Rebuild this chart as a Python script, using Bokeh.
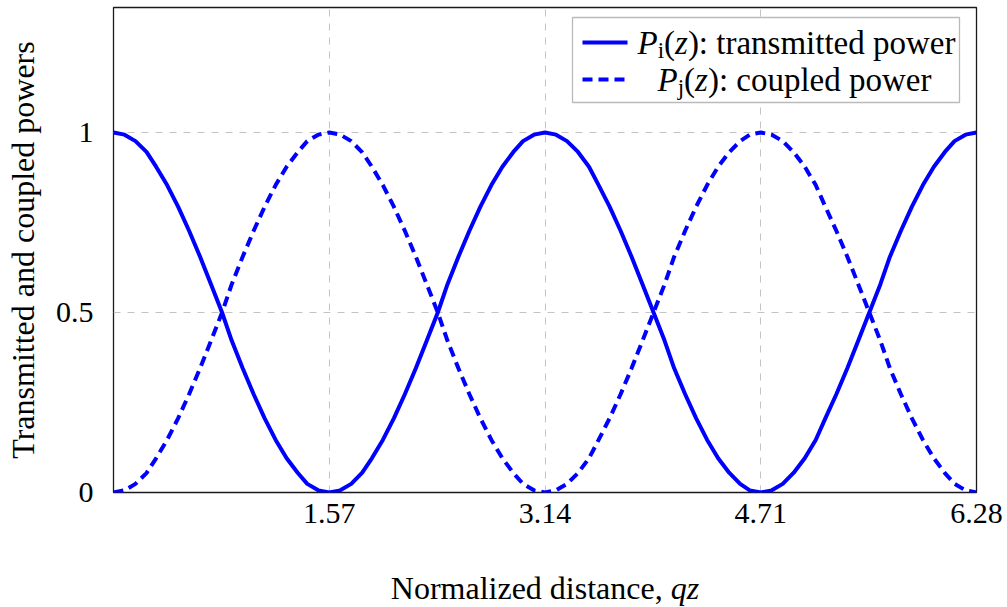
from bokeh.plotting import figure
from bokeh.models import Range1d, FixedTicker, Label, BoxAnnotation
from bokeh.layouts import column
from bokeh.core.properties import value
from bokeh.embed import file_html
from bokeh.resources import INLINE

# ---------------- data ----------------
qz = [0.00, 0.08, 0.16, 0.24, 0.31, 0.39, 0.47, 0.55, 0.63, 0.71,
      0.79, 0.86, 0.94, 1.02, 1.10, 1.18, 1.26, 1.34, 1.41, 1.49,
      1.57, 1.65, 1.73, 1.81, 1.88, 1.96, 2.04, 2.12, 2.20, 2.28,
      2.36, 2.43, 2.51, 2.59, 2.67, 2.75, 2.83, 2.91, 2.98, 3.06,
      3.14, 3.22, 3.30, 3.38, 3.46, 3.53, 3.61, 3.69, 3.77, 3.85,
      3.93, 4.01, 4.08, 4.16, 4.24, 4.32, 4.40, 4.48, 4.56, 4.63,
      4.71, 4.79, 4.87, 4.95, 5.03, 5.11, 5.18, 5.26, 5.34, 5.42,
      5.50, 5.58, 5.65, 5.73, 5.81, 5.89, 5.97, 6.05, 6.12, 6.20, 6.28]
transmitted = [1.000, 0.994, 0.976, 0.946, 0.905, 0.854, 0.794, 0.727, 0.655, 0.578,
               0.500, 0.422, 0.345, 0.273, 0.206, 0.146, 0.095, 0.055, 0.024, 0.006,
               0.000, 0.006, 0.024, 0.055, 0.095, 0.146, 0.206, 0.273, 0.345, 0.422,
               0.500, 0.578, 0.655, 0.727, 0.794, 0.854, 0.905, 0.946, 0.976, 0.994,
               1.000, 0.994, 0.976, 0.946, 0.905, 0.854, 0.794, 0.727, 0.655, 0.578,
               0.500, 0.422, 0.345, 0.273, 0.206, 0.146, 0.095, 0.055, 0.024, 0.006,
               0.000, 0.006, 0.024, 0.055, 0.095, 0.146, 0.206, 0.273, 0.345, 0.422,
               0.500, 0.578, 0.655, 0.727, 0.794, 0.854, 0.905, 0.946, 0.976, 0.994, 1.000]
coupled = [0.000, 0.006, 0.024, 0.054, 0.095, 0.146, 0.206, 0.273, 0.345, 0.422,
           0.500, 0.578, 0.655, 0.727, 0.794, 0.854, 0.905, 0.945, 0.976, 0.994,
           1.000, 0.994, 0.976, 0.945, 0.905, 0.854, 0.794, 0.727, 0.655, 0.578,
           0.500, 0.422, 0.345, 0.273, 0.206, 0.146, 0.095, 0.054, 0.024, 0.006,
           0.000, 0.006, 0.024, 0.054, 0.095, 0.146, 0.206, 0.273, 0.345, 0.422,
           0.500, 0.578, 0.655, 0.727, 0.794, 0.854, 0.905, 0.945, 0.976, 0.994,
           1.000, 0.994, 0.976, 0.945, 0.905, 0.854, 0.794, 0.727, 0.655, 0.578,
           0.500, 0.422, 0.345, 0.273, 0.206, 0.146, 0.095, 0.054, 0.024, 0.006, 0.000]
x_ticks = [1.57, 3.14, 4.71, 6.28]
x_tick_labels = ["1.57", "3.14", "4.71", "6.28"]
y_ticks = [0, 0.5, 1]
y_tick_labels = ["0", "0.5", "1"]
y_label = "Transmitted and coupled powers"
x_label_main = "Normalized distance, "
x_label_var = "qz"

# ---------------- layout ----------------
W, H = 1007, 607
H2 = 47                                     # strip below holding the x label
H1 = H - H2
FL, FR, FT, FB = 113, 976, 7, 492          # frame edges in px
X0, X1 = 0.0, 6.28
Y0 = 0.0
Y1 = Y0 + (FB - FT) / 360.0                 # 360 px per unit

def dx(px):
    return X0 + (px - FL) / (FR - FL) * (X1 - X0)

def dy(py):
    return Y0 + (FB - py) / (FB - FT) * (Y1 - Y0)

FONT = "Liberation Serif"
BLUE = "#0000ff"

p = figure(width=W, height=H1, output_backend="svg", toolbar_location=None,
           x_range=Range1d(X0, X1), y_range=Range1d(Y0, Y1),
           min_border_left=FL, min_border_right=W - FR,
           min_border_top=FT, min_border_bottom=H1 - FB)
p.background_fill_color = "white"
p.border_fill_color = "white"
p.outline_line_color = "#1a1a1a"
p.outline_line_width = 1.3

# axes
p.xaxis.ticker = FixedTicker(ticks=x_ticks)
p.yaxis.ticker = FixedTicker(ticks=y_ticks)
p.xaxis.major_label_overrides = {t: l for t, l in zip(x_ticks, x_tick_labels)}
p.yaxis.major_label_overrides = {t: l for t, l in zip(y_ticks, y_tick_labels)}
for ax in (p.xaxis[0], p.yaxis[0]):
    ax.axis_line_color = None
    ax.major_tick_line_color = None
    ax.minor_tick_line_color = None
    ax.major_label_text_font = FONT
    ax.major_label_text_font_size = "30px"
    ax.major_label_text_color = "black"
    ax.axis_label_text_font = FONT
    ax.axis_label_text_font_size = "32px"
    ax.axis_label_text_font_style = "normal"
    ax.axis_label_text_color = "black"
p.xaxis.major_label_standoff = 5
p.yaxis.major_label_standoff = 14
p.yaxis.axis_label = y_label
p.yaxis.axis_label_standoff = 12

# grid
for g in (p.xgrid[0], p.ygrid[0]):
    g.grid_line_color = "#c4c4c4"
    g.grid_line_width = 1
    g.grid_line_dash = "7 7"

# curves
p.line(qz, transmitted, line_color=BLUE, line_width=4, line_join="round")
p.line(qz, coupled, line_color=BLUE, line_width=4, line_dash="10 6")

# text metrics (Times) for placing mixed upright / italic pieces
TW = {"N": 722, "o": 500, "r": 333, "m": 778, "a": 444, "l": 278, "i": 278, "z": 444,
      "e": 444, "d": 500, " ": 250, "s": 389, "t": 278, "n": 500, "c": 444, ",": 250,
      "u": 500, "p": 500, "w": 722, ":": 278, "(": 333, ")": 333, "j": 278}
IW = {"P": 611, "z": 389, "q": 500}

def width(txt, size, italic=False):
    tbl = IW if italic else TW
    return sum(tbl.get(c, 500) for c in txt) / 1000.0 * size

def mixed_labels(segments, cx_px, mid_py):
    total = sum(width(t, s, it) for t, s, it, _ in segments)
    x = cx_px - total / 2.0
    for t, s, it, off in segments:
        p.add_layout(Label(x=dx(FL), y=dy(mid_py), x_offset=x - FL, y_offset=-off,
                           text=t, text_font=FONT, text_font_size=f"{s}px",
                           text_font_style="italic" if it else "normal",
                           text_color="black", text_baseline="middle",
                           text_align="left", level="overlay"))
        x += width(t, s, it)

# legend (drawn by hand for mixed italic / subscript text)
p.add_layout(BoxAnnotation(left=dx(572), right=dx(959), top=dy(17), bottom=dy(102),
                           fill_color="white", fill_alpha=1.0,
                           line_color="#1a1a1a", line_width=1.3, level="annotation"))
p.line([dx(582), dx(627)], [dy(42), dy(42)], line_color=BLUE, line_width=4, level="overlay")
p.line([dx(582), dx(627)], [dy(79), dy(79)], line_color=BLUE, line_width=4,
       line_dash="10 6", level="overlay")

row1 = [("P", 33, True, 0), ("i", 23, False, 8), ("(", 33, False, 0), ("z", 33, True, 0),
        ("): transmitted power", 33, False, 0)]
row2 = [("P", 33, True, 0), ("j", 23, False, 8), ("(", 33, False, 0), ("z", 33, True, 0),
        ("): coupled power", 33, False, 0)]
mixed_labels(row1, 796, 42)
mixed_labels(row2, 794, 79)

# strip below with the x-axis label (upright text + italic variable);
# the column aligns this strip's frame with the main frame, so its x range
# is set to the frame's pixel span
p2 = figure(width=W, height=H2, output_backend="svg", toolbar_location=None,
            x_range=Range1d(FL, FR), y_range=Range1d(H, H1),
            x_axis_location=None, y_axis_location=None, min_border=0)
p2.grid.visible = False
p2.outline_line_color = None
p2.background_fill_color = "white"
p2.border_fill_color = "white"

segs = [(x_label_main, 32, False), (x_label_var, 32, True)]
tot = sum(width(t, s, it) for t, s, it in segs)
xs = (FL + FR) / 2.0 - tot / 2.0
for t, s, it in segs:
    p2.text(x=[xs], y=[587], text=[t], text_font=value(FONT),
            text_font_size=value(f"{s}px"),
            text_font_style=value("italic" if it else "normal"),
            text_color="black", text_baseline="middle", text_align="left")
    xs += width(t, s, it)

layout = column(p, p2, spacing=0)
open("out.html", "w").write(file_html(layout, INLINE))
